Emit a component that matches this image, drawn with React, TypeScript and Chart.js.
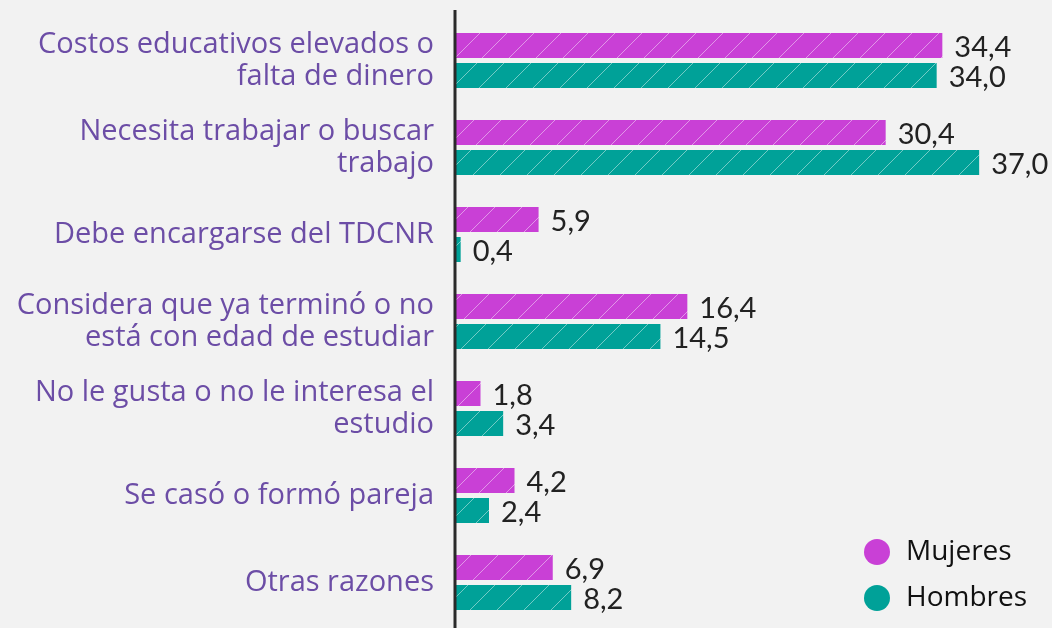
import React, { useEffect, useRef } from "react";
import { Chart, registerables } from "chart.js";

Chart.register(...registerables);

const categories: string[][] = [
  ["Costos educativos elevados o", "falta de dinero"],
  ["Necesita trabajar o buscar", "trabajo"],
  ["Debe encargarse del TDCNR"],
  ["Considera que ya terminó o no", "está con edad de estudiar"],
  ["No le gusta o no le interesa el", "estudio"],
  ["Se casó o formó pareja"],
  ["Otras razones"],
];
const mujeres = [34.4, 30.4, 5.9, 16.4, 1.8, 4.2, 6.9];
const hombres = [34.0, 37.0, 0.4, 14.5, 3.4, 2.4, 8.2];
const seriesNames = ["Mujeres", "Hombres"];
const seriesColors = ["#C940D6", "#00A198"];

function hatch(color: string): CanvasPattern | string {
  const s = 27;
  const c = document.createElement("canvas");
  c.width = s;
  c.height = s;
  const ctx = c.getContext("2d");
  if (!ctx) return color;
  ctx.fillStyle = color;
  ctx.fillRect(0, 0, s, s);
  ctx.strokeStyle = "rgba(255,255,255,0.45)";
  ctx.lineWidth = 1;
  ctx.beginPath();
  ctx.moveTo(-2, s + 2);
  ctx.lineTo(s + 2, -2);
  ctx.moveTo(-2 - s, s + 2);
  ctx.lineTo(2, -2);
  ctx.moveTo(s - 2, s + 2);
  ctx.lineTo(2 * s + 2, -2);
  ctx.stroke();
  const p = ctx.createPattern(c, "repeat");
  return p || color;
}

export default function App() {
  const ref = useRef<HTMLCanvasElement>(null);
  useEffect(() => {
    document.body.style.margin = "0";
    const canvas = ref.current;
    if (!canvas) return;

    const bgPlugin = {
      id: "bg",
      beforeDraw(chart: any) {
        const ctx = chart.ctx;
        ctx.save();
        ctx.fillStyle = "#F2F2F2";
        ctx.fillRect(0, 0, chart.width, chart.height);
        ctx.restore();
      },
    };

    const overlay = {
      id: "overlay",
      afterDatasetsDraw(chart: any) {
        const ctx = chart.ctx;
        ctx.save();
        // axis line
        const x0 = chart.scales.x.getPixelForValue(0);
        ctx.strokeStyle = "#2a2a2a";
        ctx.lineWidth = 3;
        ctx.beginPath();
        ctx.moveTo(x0, 10);
        ctx.lineTo(x0, chart.height);
        ctx.stroke();
        // value labels
        ctx.font = "29px Lato, 'Open Sans', sans-serif";
        ctx.fillStyle = "#222222";
        ctx.textAlign = "left";
        ctx.textBaseline = "middle";
        chart.data.datasets.forEach((ds: any, di: number) => {
          const meta = chart.getDatasetMeta(di);
          meta.data.forEach((el: any, i: number) => {
            const v = ds.data[i] as number;
            ctx.fillText(v.toFixed(1).replace(".", ","), el.x + 12, el.y + 2);
          });
        });
        // legend
        const lx = 877;
        const ly = [552, 598];
        ctx.font = "28px 'Open Sans', sans-serif";
        seriesNames.forEach((n, i) => {
          ctx.fillStyle = seriesColors[i];
          ctx.beginPath();
          ctx.arc(lx, ly[i], 13, 0, Math.PI * 2);
          ctx.fill();
          ctx.fillStyle = "#111111";
          ctx.fillText(n, 906, ly[i]);
        });
        ctx.restore();
      },
    };

    const chart = new Chart(canvas, {
      type: "bar",
      data: {
        labels: categories,
        datasets: [
          {
            label: seriesNames[0],
            data: mujeres,
            backgroundColor: hatch(seriesColors[0]) as any,
            borderWidth: 0,
            categoryPercentage: 0.69,
            barPercentage: 0.833,
          },
          {
            label: seriesNames[1],
            data: hombres,
            backgroundColor: hatch(seriesColors[1]) as any,
            borderWidth: 0,
            categoryPercentage: 0.69,
            barPercentage: 0.833,
          },
        ],
      },
      options: {
        indexAxis: "y",
        animation: false,
        responsive: false,
        layout: { padding: { top: 17, bottom: 2, right: 2, left: 0 } },
        plugins: { legend: { display: false }, tooltip: { enabled: false } },
        scales: {
          x: { display: false, min: 0, max: 42 },
          y: {
            grid: { display: false },
            border: { display: false },
            ticks: {
              color: "#6C4DA6",
              font: { family: "'Open Sans', sans-serif", size: 29, lineHeight: 1.1 },
              padding: 13,
            },
            afterFit(scale: any) {
              scale.width = 455;
              scale.paddingTop = 0;
              scale.paddingBottom = 0;
            },
          },
        },
      },
      plugins: [bgPlugin, overlay],
    });
    return () => chart.destroy();
  }, []);
  return (
    <div style={{ width: 1052, height: 628 }}>
      <canvas ref={ref} width={1052} height={628} />
    </div>
  );
}
